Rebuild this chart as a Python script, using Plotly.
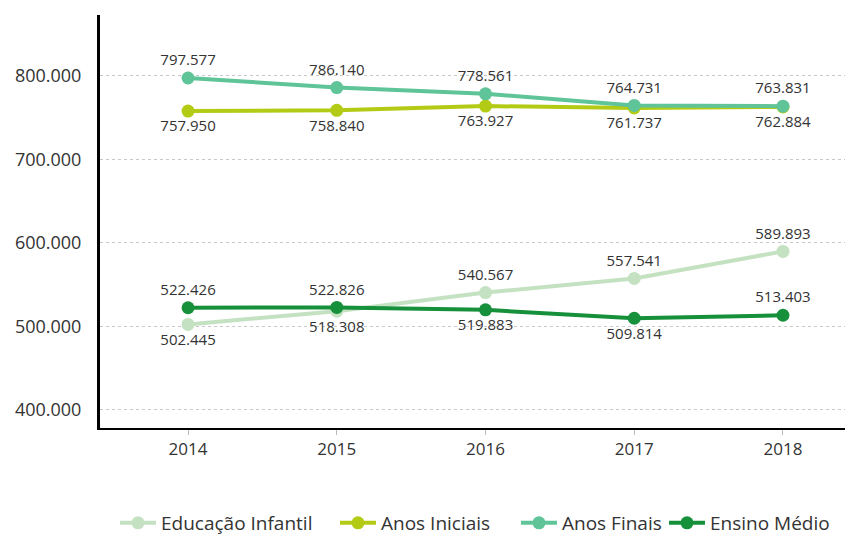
import plotly.graph_objects as go

years = [2014, 2015, 2016, 2017, 2018]
educacao_infantil = [502445, 518308, 540567, 557541, 589893]
anos_iniciais = [757950, 758840, 763927, 761737, 762884]
anos_finais = [797577, 786140, 778561, 764731, 763831]
ensino_medio = [522426, 522826, 519883, 509814, 513403]

ei_pos = ["bottom center", "bottom center", "top center", "top center", "top center"]
ai_pos = ["bottom center"] * 5
af_pos = ["top center"] * 5
em_pos = ["top center", "top center", "bottom center", "bottom center", "top center"]

def fmt(v):
    return f"{v:,}".replace(",", ".")

series = [
    ("Educação Infantil", educacao_infantil, "#c4e2c2", ei_pos, "legend", 107, 200),
    ("Anos Iniciais", anos_iniciais, "#b4cb16", ai_pos, "legend2", 327, 160),
    ("Anos Finais", anos_finais, "#5fc498", af_pos, "legend3", 508, 135),
    ("Ensino Médio", ensino_medio, "#16903a", em_pos, "legend4", 656, 170),
]

W, H = 853, 538
fig = go.Figure()
legends = {}
for name, vals, color, pos, lg, lx, ew in series:
    fig.add_trace(go.Scatter(
        x=years, y=vals, name=name, mode="lines+markers+text",
        line=dict(color=color, width=4),
        marker=dict(color=color, size=13),
        text=[fmt(v) for v in vals], textposition=pos,
        textfont=dict(size=15, color="#333333", family="Open Sans"),
        cliponaxis=False, legend=lg,
    ))
    legends[lg] = dict(orientation="h", xref="container", yref="container",
                       x=lx / W, xanchor="left", y=1 - 515 / H, yanchor="middle",
                       font=dict(size=19, color="#333333"), itemwidth=36,
                       entrywidth=ew, entrywidthmode="pixels",
                       bgcolor="rgba(0,0,0,0)")

fig.update_layout(
    width=W, height=H,
    margin=dict(l=92, r=9, t=7, b=118),
    plot_bgcolor="white", paper_bgcolor="white",
    separators=",.",
    font=dict(family="Open Sans", color="#333333"),
    showlegend=True,
    **legends,
)
fig.update_xaxes(
    range=[2013.408, 2018.464], tickvals=years, ticktext=[str(y) for y in years],
    showgrid=False, showline=True, linecolor="black", linewidth=2,
    ticks="outside", tickcolor="#bbbbbb", ticklen=5, automargin=False,
    tickfont=dict(size=17, color="#333333"), zeroline=False,
)
fig.update_yaxes(
    range=[378400, 873000], tickvals=[400000, 500000, 600000, 700000, 800000],
    ticktext=["400.000", "500.000", "600.000", "700.000", "800.000"],
    showgrid=True, gridcolor="#c8c8c8", griddash="3px,3px", gridwidth=1,
    showline=True, linecolor="black", linewidth=3, ticks="", ticklabelstandoff=12,
    tickfont=dict(size=18, color="#333333"), zeroline=False, automargin=False,
)

fig.write_html("out.html")
